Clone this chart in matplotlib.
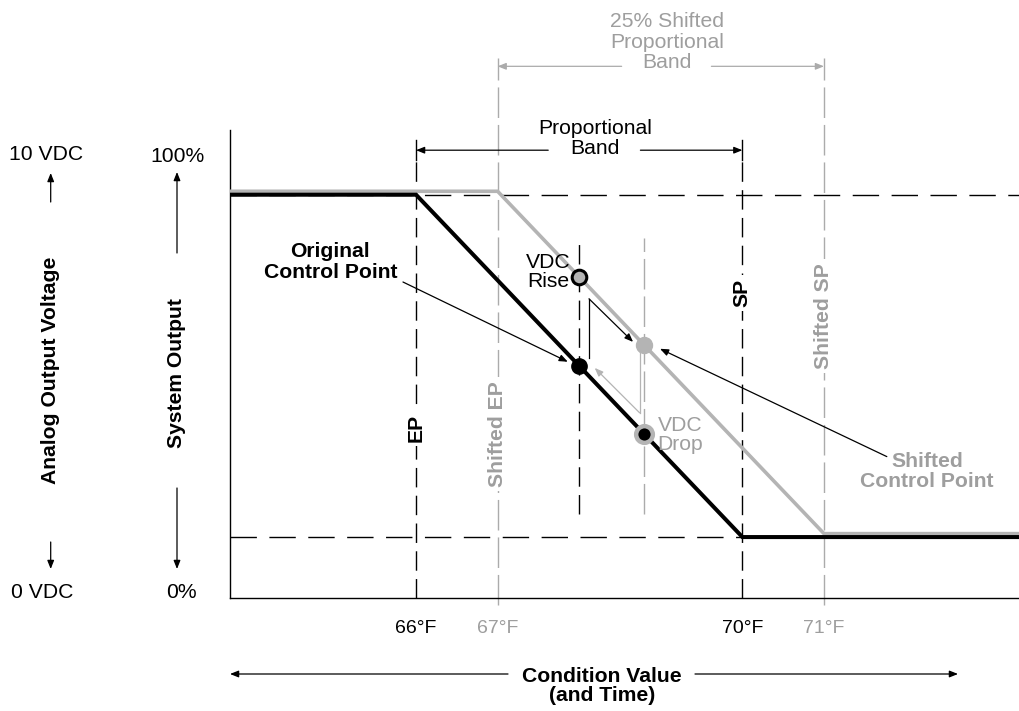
import numpy as np
import matplotlib
matplotlib.use("Agg")
import matplotlib.pyplot as plt

plt.rcParams['font.family'] = ['Liberation Sans', 'DejaVu Sans']

W, H = 1019, 711
GRAY_LINE = '#b4b4b4'
GRAY_TEXT = '#9e9e9e'
GRAY_DASH = '#ababab'
FS = 15.2

# ---------------------------------------------------------------------------
# data
# ---------------------------------------------------------------------------
tick_temps = [66, 67, 70, 71]
tick_labels = ['66°F', '67°F', '70°F', '71°F']
tick_colors = ['black', GRAY_TEXT, 'black', GRAY_TEXT]

orig_ep, orig_sp = 66, 70        # original proportional band
shift_ep, shift_sp = 67, 71      # 25% shifted proportional band
orig_output = [100, 100, 0, 0]
shift_output = [101, 101, 1, 1]

control_temp = 68.0
shifted_control_temp = 68.8
orig_control_out = 50
rise_out = 76
shifted_control_out = 56
drop_out = 30

x_min, x_max = 63.72, 73.39
y_min, y_max = -17.8, 118.9


def ff(x, y):
    """pixel position in the image -> figure fraction"""
    return (x / W, 1 - y / H)


fig = plt.figure(figsize=(W / 100, H / 100), dpi=100)
ax = fig.add_axes([230 / W, (H - 598) / H, 789 / W, 468 / H])
ax.set_xlim(x_min, x_max)
ax.set_ylim(y_min, y_max)
for s in ['top', 'right']:
    ax.spines[s].set_visible(False)
for s in ['left', 'bottom']:
    ax.spines[s].set_linewidth(1.0)
ax.set_yticks([])
ax.set_xticks(tick_temps, tick_labels)
ax.tick_params(axis='x', length=0, pad=16, labelsize=14)
for lab, c in zip(ax.get_xticklabels(), tick_colors):
    lab.set_color(c)

# horizontal reference lines
ax.plot([x_min, x_max], [100, 100], color='black', lw=1.0, dashes=(19, 9), zorder=1)
ax.plot([x_min, x_max], [0, 0], color='black', lw=1.0, dashes=(19, 9), zorder=1)

# vertical band limits
for t in [orig_ep, orig_sp]:
    ax.plot([t, t], [y_min, 110.5], color='black', lw=1.0, dashes=(14, 6), zorder=1, clip_on=False)
for t in [shift_ep, shift_sp]:
    ax.plot([t, t], [-19.7, 140], color=GRAY_DASH, lw=1.0, dashes=(22, 5), zorder=1, clip_on=False)

# control point verticals
ax.plot([control_temp, control_temp], [6.6, 87.4], color='black', lw=1.0, dashes=(14, 6), zorder=1)
ax.plot([shifted_control_temp, shifted_control_temp], [6.6, 87.4], color=GRAY_DASH, lw=1.0,
        dashes=(22, 5), zorder=1)

# output curves
ax.plot([x_min, shift_ep, shift_sp, x_max], shift_output, color=GRAY_LINE, lw=2.6,
        solid_joinstyle='miter', zorder=3)
ax.plot([x_min, orig_ep, orig_sp, x_max], orig_output, color='black', lw=2.9,
        solid_joinstyle='miter', zorder=4)

# sawtooth (rise / drop)
ax.plot([68.12, 68.12], [52.4, 69.6], color='black', lw=0.9, zorder=2)
ax.annotate('', xy=(68.66, 57.0), xytext=(68.12, 69.6),
            arrowprops=dict(arrowstyle='-|>,head_length=0.5,head_width=0.2', color='black',
                            lw=0.9, shrinkA=0, shrinkB=0), zorder=2)
ax.plot([68.74, 68.74], [54.1, 36.3], color=GRAY_LINE, lw=0.9, zorder=2)
ax.annotate('', xy=(68.19, 49.4), xytext=(68.74, 36.3),
            arrowprops=dict(arrowstyle='-|>,head_length=0.5,head_width=0.2', color=GRAY_LINE,
                            lw=0.9, shrinkA=0, shrinkB=0), zorder=2)

# points
ax.plot(control_temp, orig_control_out, 'o', ms=11, color='black', zorder=6)
ax.plot(control_temp, rise_out, 'o', ms=10.5, mfc=GRAY_LINE, mec='black', mew=2.2, zorder=6)
ax.plot(shifted_control_temp, shifted_control_out, 'o', ms=11.5, color=GRAY_LINE, zorder=6)
ax.plot(shifted_control_temp, drop_out, 'o', ms=12, mfc='black', mec=GRAY_LINE, mew=3.2, zorder=6)

# labels on the band lines
lbl_box = dict(fc='white', ec='none', pad=3)
ax.text(orig_ep, 31.9, 'EP', rotation=90, ha='center', va='center', fontsize=FS,
        fontweight='bold', bbox=lbl_box, zorder=2)
ax.text(shift_ep, 30.0, 'Shifted EP', rotation=90, ha='center', va='center', fontsize=FS,
        fontweight='bold', color=GRAY_TEXT, bbox=lbl_box, zorder=2)
ax.text(orig_sp, 71.3, 'SP', rotation=90, ha='center', va='center', fontsize=FS,
        fontweight='bold', bbox=lbl_box, zorder=2)
ax.text(shift_sp, 64.6, 'Shifted SP', rotation=90, ha='center', va='center', fontsize=FS,
        fontweight='bold', color=GRAY_TEXT, bbox=lbl_box, zorder=2)

ax.text(67.62, 77.3, 'VDC\nRise', ha='center', va='center', fontsize=FS, linespacing=1.0, zorder=7)
ax.text(69.24, 29.9, 'VDC\nDrop', ha='center', va='center', fontsize=FS, linespacing=1.0,
        color=GRAY_TEXT, zorder=7)

# control point callouts
arr = dict(arrowstyle='-|>,head_length=0.5,head_width=0.2', color='black', lw=0.9,
           shrinkA=0, shrinkB=0)
ax.text(64.95, 80.4, 'Original\nControl Point', ha='center', va='center', fontsize=FS,
        fontweight='bold', linespacing=1.1)
ax.annotate('', xy=(67.86, 51.2), xytext=(65.84, 74.5), arrowprops=arr, zorder=5)
ax.text(72.26, 19.1, 'Shifted\nControl Point', ha='center', va='center', fontsize=FS,
        fontweight='bold', color=GRAY_TEXT, linespacing=1.1)
ax.annotate('', xy=(68.99, 55.0), xytext=(71.77, 23.5), arrowprops=arr, zorder=5)

# proportional band dimension
ax.text(68.19, 116.4, 'Proportional\nBand', ha='center', va='center', fontsize=FS, linespacing=1.1)
ax.annotate('', xy=(orig_ep, 113.0), xytext=(67.62, 113.0), arrowprops=arr, annotation_clip=False)
ax.annotate('', xy=(orig_sp, 113.0), xytext=(68.75, 113.0), arrowprops=arr, annotation_clip=False)
for t in [orig_ep, orig_sp]:
    ax.plot([t, t], [110.1, 115.9], color='black', lw=1.0, clip_on=False)

arr_g = dict(arr, color=GRAY_DASH)
ax.text(69.08, 144.5, '25% Shifted\nProportional\nBand', ha='center', va='center', fontsize=FS,
        color=GRAY_TEXT, linespacing=1.1)
ax.annotate('', xy=(shift_ep, 137.5), xytext=(68.52, 137.5), arrowprops=arr_g, annotation_clip=False)
ax.annotate('', xy=(shift_sp, 137.5), xytext=(69.62, 137.5), arrowprops=arr_g, annotation_clip=False)

# left side scales
fig.text(*ff(46, 155), '10 VDC', ha='center', va='center', fontsize=FS)
fig.text(*ff(42, 592), '0 VDC', ha='center', va='center', fontsize=FS)
fig.text(*ff(51, 370), 'Analog Output Voltage', rotation=90, ha='center', va='center',
         fontsize=FS, fontweight='bold')
fig.text(*ff(178, 157), '100%', ha='center', va='center', fontsize=FS)
fig.text(*ff(181, 592), '0%', ha='center', va='center', fontsize=FS)
fig.text(*ff(177, 373), 'System Output', rotation=90, ha='center', va='center',
         fontsize=FS, fontweight='bold')

for x0, y0, x1, y1 in [(50.7, 202, 50.7, 173), (50.7, 542, 50.7, 569),
                       (177, 253, 177, 172), (177, 488, 177, 569),
                       (508, 674, 230, 674), (695, 674, 958, 674)]:
    fig.add_artist(matplotlib.patches.FancyArrowPatch(
        ff(x0, y0), ff(x1, y1), transform=fig.transFigure,
        arrowstyle='-|>,head_length=0.5,head_width=0.2', mutation_scale=10,
        color='black', lw=0.9, shrinkA=0, shrinkB=0))

fig.text(*ff(602, 686), 'Condition Value\n(and Time)', ha='center', va='center', fontsize=FS,
         fontweight='bold', linespacing=1.05)

fig.savefig('out.png', dpi=100)
